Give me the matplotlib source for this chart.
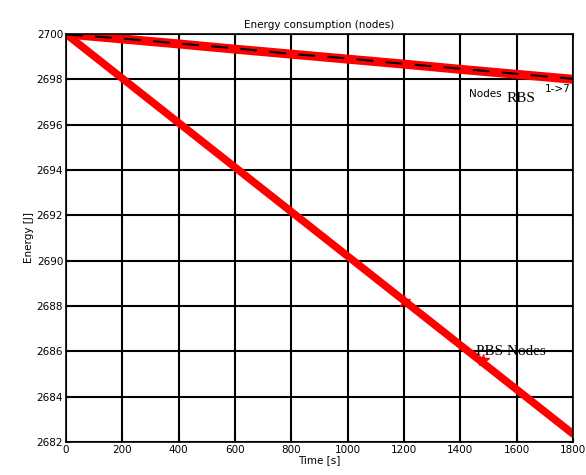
import matplotlib.pyplot as plt

# time axis (s)
time = [0, 200, 400, 600, 800, 1000, 1200, 1400, 1600, 1800]

# RBS nodes 1->7 (red) and its black dashed companion
rbs_energy = [2700.0, 2699.78, 2699.56, 2699.33, 2699.11, 2698.89, 2698.67, 2698.44, 2698.22, 2698.0]
rbs_dashed = [2699.98, 2699.8, 2699.58, 2699.37, 2699.12, 2698.92, 2698.68, 2698.47, 2698.24, 2698.02]

# PBS nodes (red)
pbs_energy = [2700.0, 2698.04, 2696.08, 2694.12, 2692.16, 2690.2, 2688.24, 2686.28, 2684.32, 2682.36]

fig = plt.figure(figsize=(5.86, 4.75), dpi=100)
ax = fig.add_axes([0.1126, 0.0695, 0.865, 0.859])

ax.plot(time, pbs_energy, color='red', linewidth=5.5, solid_capstyle='round')
ax.plot(time, rbs_energy, color='red', linewidth=6.5, solid_capstyle='round')
ax.plot(time, rbs_dashed, color='black', linewidth=1.5, linestyle=(0, (8, 6)))
ax.plot([1200, 1480], [2688.24, 2685.6], linestyle='none', marker='*',
        markersize=9, color='red')

ax.set_xlim(0, 1800)
ax.set_ylim(2682, 2700)
ax.set_xticks(range(0, 1801, 200))
ax.set_yticks(range(2682, 2701, 2))
ax.grid(True, color='black', linewidth=1.5)
ax.tick_params(direction='in', top=True, right=True, labelsize=7.5, length=3, pad=2)
for s in ax.spines.values():
    s.set_linewidth(1.2)

ax.set_title('Energy consumption (nodes)', fontsize=7.5, pad=4)
ax.set_xlabel('Time [s]', fontsize=7.5, labelpad=0)
ax.set_ylabel('Energy [J]', fontsize=7.5, labelpad=2)

ax.text(1430, 2697.35, 'Nodes', fontsize=7.5, ha='left', va='center')
ax.text(1565, 2697.15, 'RBS', fontsize=11, family='Liberation Serif', ha='left', va='center')
ax.text(1700, 2697.55, '1->7', fontsize=7.5, ha='left', va='center')
ax.text(1455, 2686.0, 'PBS Nodes', fontsize=11, family='Liberation Serif', ha='left', va='center')

fig.savefig('out.png', dpi=100)
